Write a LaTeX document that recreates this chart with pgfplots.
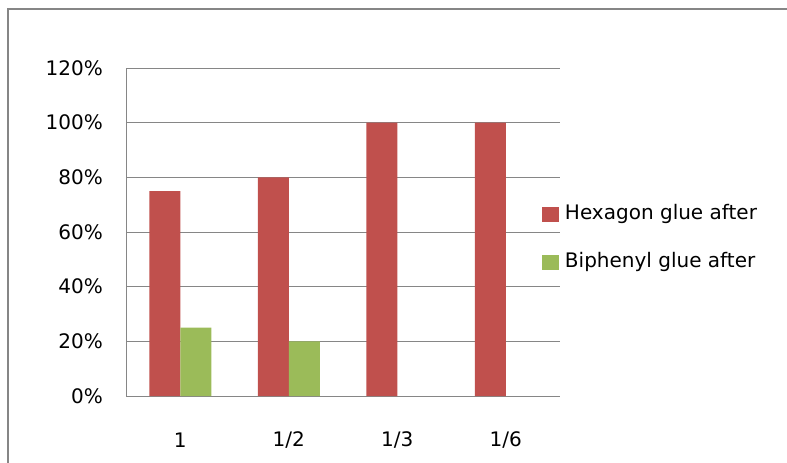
\documentclass[border=0pt]{standalone}
\usepackage{pgfplots}
\pgfplotsset{compat=1.18}
\usepackage{fontspec}
\setmainfont{DejaVu Sans}
\definecolor{hexred}{RGB}{192,80,77}
\definecolor{bigreen}{RGB}{155,187,89}
\definecolor{axgray}{RGB}{134,134,134}
\begin{document}
\begin{tikzpicture}
\path[use as bounding box] (0,0) rectangle (787bp,-463bp);
\draw[axgray, line width=1.2bp] (8bp,-463bp) -- (8bp,-9bp) -- (787bp,-9bp);
\begin{axis}[
  at={(126bp,-396bp)}, anchor=south west,
  scale only axis, width=434bp, height=328bp,
  xmin=-0.5, xmax=3.5, ymin=0, ymax=120,
  ybar=0pt, bar width=31bp,
  axis x line*=bottom, axis y line*=left,
  axis line style={axgray, line width=1bp, -},
  ymajorgrids, grid style={axgray, line width=1bp},
  ytick={0,20,40,60,80,100,120},
  yticklabel={\pgfmathprintnumber{\tick}\%},
  xtick={0,1,2,3}, xticklabels={1,1/2,1/3,1/6},
  major tick length=0pt,
  /pgf/number format/assume math mode=true,
  tick label style={font=\fontsize{20bp}{24bp}\selectfont, text=black},
  xticklabel style={anchor=center, yshift=-44bp},
  yticklabel style={anchor=east, inner sep=0pt, xshift=-23bp},
  legend style={at={(0.9585,0.4787)}, anchor=west, draw=none, fill=none,
    inner sep=0pt, outer sep=0pt, row sep=22bp, column sep=3bp,
    font=\fontsize{20bp}{24bp}\selectfont,
    nodes={inner sep=3bp, text height=15bp, text depth=5bp, anchor=west}},
  legend cell align=left,
  legend image code/.code={\fill (0bp,-7.5bp) rectangle (17bp,7.5bp);},
]
\addplot[fill=hexred, draw=none] coordinates {(0,75) (1,80) (2,100) (3,100)};
\addplot[fill=bigreen, draw=none] coordinates {(0,25) (1,20)};
\legend{Hexagon glue after, Biphenyl glue after}
\end{axis}
\end{tikzpicture}
\end{document}
